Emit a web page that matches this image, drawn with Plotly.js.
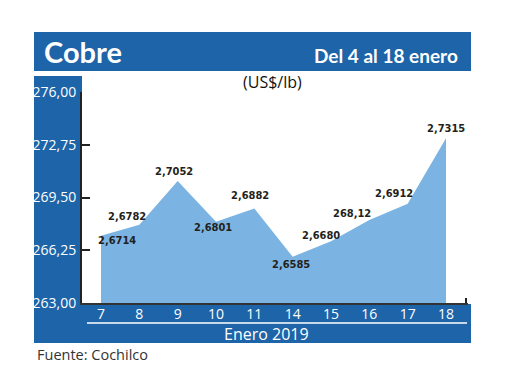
<!DOCTYPE html>
<html>
<head>
<meta charset="utf-8">
<script src="https://cdn.plot.ly/plotly-3.0.1.min.js"></script>
<style>
html,body{margin:0;padding:0;background:#fff;}
#chart{width:520px;height:390px;}
</style>
</head>
<body>
<div id="chart"></div>
<script>
// ---- data ----
const days = ['7','8','9','10','11','14','15','16','17','18'];
const prices = [267.14, 267.82, 270.52, 268.01, 268.82, 265.85, 266.80, 268.12, 269.12, 273.15];
const priceLabels = ['2,6714','2,6782','2,7052','2,6801','2,6882','2,6585','2,6680','268,12','2,6912','2,7315'];
const yTicks = [263, 266.25, 269.5, 272.75, 276];
const yTickLabels = ['263,00','266,25','269,50','272,75','276,00'];
const titleText = 'Cobre';
const periodText = 'Del 4 al 18 enero';
const unitText = '(US$/lb)';
const xTitleText = 'Enero 2019';
const sourceText = 'Fuente: Cochilco';

// ---- style / layout ----
const L = 82, R = 468, T = 92, B = 303, W = 520, H = 390;
const xp = px => (px - L) / (R - L);
const yp = py => (B - py) / (B - T);
const blue = '#1d64a8';
const labelShift = [[16,-5],[-12,8],[-4,9],[-3,-6],[-4,13],[-2,-8],[-10,6],[-17,6],[-14,10],[0,10]];
const xIdx = days.map((d, i) => i);

const trace = {
  x: xIdx, y: prices, type: 'scatter', mode: 'lines',
  fill: 'tozeroy', fillcolor: '#7bb4e2',
  line: {width: 0, color: '#7bb4e2'}, hoverinfo: 'skip'
};

const rect = (x0, y0, x1, y1, color) => ({
  type: 'rect', xref: 'paper', yref: 'paper', layer: 'below',
  x0: xp(x0), x1: xp(x1), y0: yp(y1), y1: yp(y0),
  fillcolor: color, line: {width: 0}
});

const shapes = [
  rect(34, 32, 471, 71, blue),
  rect(34, 76, 82, 343, blue),
  rect(34, 304, 471, 343, blue),
  {type: 'line', xref: 'paper', yref: 'paper', layer: 'below',
   x0: xp(87), x1: xp(467), y0: yp(323), y1: yp(323), line: {color: '#ffffff', width: 1.6}},
  {type: 'line', xref: 'paper', yref: 'paper', layer: 'above',
   x0: xp(466), x1: xp(466), y0: yp(303), y1: yp(298), line: {color: '#222', width: 2}}
];

const labelFont = {family: 'Liberation Sans Narrow, DejaVu Sans Condensed, sans-serif', size: 11, color: '#231f20', weight: 'bold'};
const annotations = priceLabels.map((t, i) => ({
  x: xIdx[i], y: prices[i], xref: 'x', yref: 'y', text: '<b>' + t + '</b>',
  showarrow: false, xanchor: 'center', yanchor: 'middle',
  xshift: labelShift[i][0], yshift: labelShift[i][1], font: labelFont
}));

annotations.push(
  {xref: 'paper', yref: 'paper', x: xp(42), y: yp(51), xanchor: 'left', yanchor: 'middle', showarrow: false,
   text: '<b>' + titleText + '</b>', font: {family: 'Lato, sans-serif', size: 29, color: '#ffffff'}},
  {xref: 'paper', yref: 'paper', x: xp(460), y: yp(55), xanchor: 'right', yanchor: 'middle', showarrow: false,
   text: '<b>' + periodText + '</b>', font: {family: 'Lato, sans-serif', size: 19, color: '#ffffff'}},
  {xref: 'paper', yref: 'paper', x: xp(272), y: yp(82), xanchor: 'center', yanchor: 'middle', showarrow: false,
   text: unitText, font: {family: 'Open Sans, sans-serif', size: 16, color: '#111'}},
  {xref: 'paper', yref: 'paper', x: xp(266), y: yp(334), xanchor: 'center', yanchor: 'middle', showarrow: false,
   text: xTitleText, font: {family: 'Open Sans, sans-serif', size: 16, color: '#ffffff'}},
  {xref: 'paper', yref: 'paper', x: xp(35), y: yp(354), xanchor: 'left', yanchor: 'middle', showarrow: false,
   text: sourceText, font: {family: 'Open Sans, sans-serif', size: 14.5, color: '#333'}}
);

const layout = {
  width: W, height: H,
  margin: {l: L, r: W - R, t: T, b: H - B, pad: 0},
  paper_bgcolor: '#ffffff', plot_bgcolor: 'rgba(0,0,0,0)',
  showlegend: false,
  xaxis: {
    range: [-0.496, 9.574], tickvals: xIdx, ticktext: days,
    showgrid: false, zeroline: false, showline: true, linecolor: '#333', linewidth: 2,
    ticks: '', ticklabelstandoff: -3,
    tickfont: {family: 'Open Sans, sans-serif', size: 14, color: '#ffffff'},
    fixedrange: true
  },
  yaxis: {
    range: [263, 276], tickvals: yTicks, ticktext: yTickLabels,
    showgrid: false, zeroline: false, showline: true, linecolor: '#222', linewidth: 2,
    ticks: 'inside', ticklen: 8, tickwidth: 2, tickcolor: '#222', ticklabelstandoff: 1,
    tickfont: {family: 'Open Sans, sans-serif', size: 14, color: '#ffffff'},
    fixedrange: true
  },
  shapes: shapes,
  annotations: annotations
};

Plotly.newPlot('chart', [trace], layout, {displayModeBar: false, staticPlot: true});
</script>
</body>
</html>
